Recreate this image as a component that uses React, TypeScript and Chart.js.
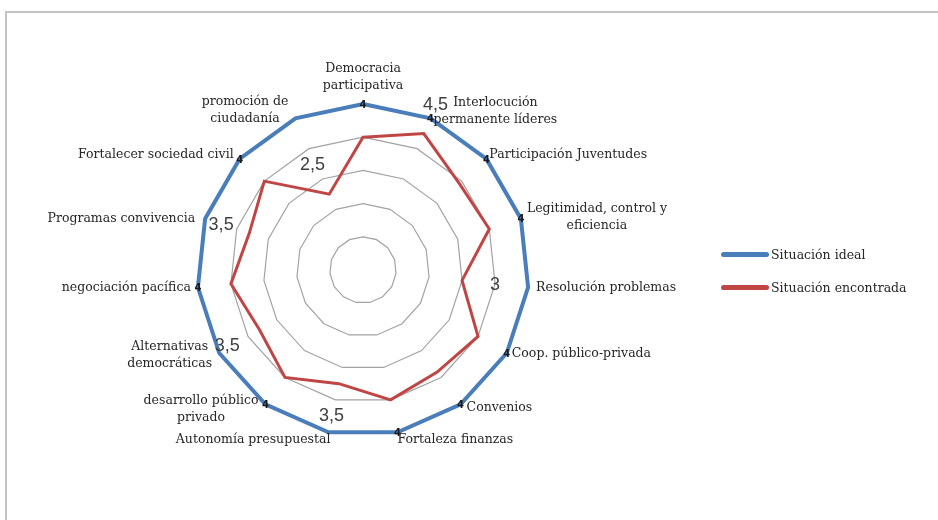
import React, { useEffect, useRef } from "react";
import { Chart, registerables } from "chart.js";

Chart.register(...registerables);

// ---- data ----
const categories: string[][] = [
  ["Democracia", "participativa"],
  ["Interlocución", "permanente líderes"],
  ["Participación Juventudes"],
  ["Legitimidad, control y", "eficiencia"],
  ["Resolución problemas"],
  ["Coop. público-privada"],
  ["Convenios"],
  ["Fortaleza finanzas"],
  ["Autonomía presupuestal"],
  ["desarrollo público", "privado"],
  ["Alternativas", "democráticas"],
  ["negociación pacífica"],
  ["Programas convivencia"],
  ["Fortalecer sociedad civil"],
  ["promoción de", "ciudadanía"],
];

const seriesNames = ["Situación ideal", "Situación encontrada"];

const idealValues = [4, 4, 4, 4, 4, 4, 4, 4, 4, 4, 4, 4, 4, 4, 4];
const foundValues = [3.5, 3.75, 3.45, 3.5, 3.0, 3.5, 3.4, 3.5, 3.25, 3.5, 3.3, 3.5, 3.3, 3.5, 2.75];

// small data labels at the ideal vertices ("" = none)
const idealTags = ["4", "4", "4", "4", "", "4", "4", "4", "", "4", "", "4", "", "4", ""];
// larger value labels shown near some categories ("" = none)
const valueTags = ["", "4,5", "", "", "3", "", "", "", "3,5", "", "3,5", "", "3,5", "", "2,5"];

const scaleMin = 1.5;
const scaleMax = 4;
const scaleStep = 0.5;

// ---- styles / placement ----
const BLUE = "#4a7ebb";
const RED = "#c04545";
const LABEL_FONT = '12.5px "DejaVu Serif"';
const LINE_H = 17;
// [mode, dx, dy] relative to the outer vertex: c=centered, l=block starts right of vertex, r=block ends left of vertex
const labelPlacement: [string, number, number][] = [
  ["c", 0, -27],
  ["l", 3, -7],
  ["l", 3, -4],
  ["l", 6, -1],
  ["l", 8, 0],
  ["l", 5, 1],
  ["l", 6, 3],
  ["l", 0, 7],
  ["r", 2, 7],
  ["r", -7, 5],
  ["r", -7, 2],
  ["r", -7, 0],
  ["r", -10, 0],
  ["r", -6, -4],
  ["r", -7, -8],
];
// offsets (px) of the larger value tags relative to the outer vertex
const valueTagOffset: Record<number, [number, number]> = {
  1: [5, -13],
  4: [-33, -2],
  8: [3, -16],
  10: [8, -7],
  12: [16, 6],
  14: [17, 47],
};

const textPlugin = {
  id: "radarTexts",
  afterDatasetsDraw(chart: any) {
    const scale = chart.scales.r;
    const ctx = chart.ctx as CanvasRenderingContext2D;
    const R = scale.getDistanceFromCenterForValue(scaleMax);
    ctx.save();
    ctx.textBaseline = "middle";
    ctx.textAlign = "center";
    // category labels
    ctx.font = LABEL_FONT;
    ctx.fillStyle = "#262626";
    categories.forEach((lines, i) => {
      const p = scale.getPointPosition(i, R);
      const [mode, dx, dy] = labelPlacement[i];
      const w = Math.max(...lines.map((l) => ctx.measureText(l).width));
      let cx = p.x + dx;
      if (mode === "l") cx = p.x + dx + w / 2;
      if (mode === "r") cx = p.x + dx - w / 2;
      const cy = p.y + dy;
      lines.forEach((l, k) => {
        ctx.fillText(l, cx, cy + (k - (lines.length - 1) / 2) * LINE_H);
      });
    });
    // small tags at ideal vertices
    ctx.font = 'bold 10px "DejaVu Sans"';
    ctx.fillStyle = "#1a1a1a";
    idealTags.forEach((t, i) => {
      if (!t) return;
      const p = scale.getPointPosition(i, scale.getDistanceFromCenterForValue(idealValues[i]));
      ctx.fillText(t, p.x, p.y + 1);
    });
    // larger value tags
    ctx.font = '18px "Liberation Sans"';
    ctx.fillStyle = "#404040";
    valueTags.forEach((t, i) => {
      if (!t) return;
      const p = scale.getPointPosition(i, R);
      const off = valueTagOffset[i] || [0, 0];
      ctx.fillText(t, p.x + off[0], p.y + off[1]);
    });
    ctx.restore();
  },
};

export default function App() {
  const ref = useRef<HTMLCanvasElement | null>(null);

  useEffect(() => {
    if (!ref.current) return;
    const chart = new Chart(ref.current, {
      type: "radar",
      data: {
        labels: categories,
        datasets: [
          {
            label: seriesNames[0],
            data: idealValues,
            borderColor: BLUE,
            backgroundColor: "transparent",
            borderWidth: 4,
            pointRadius: 0,
            fill: false,
          },
          {
            label: seriesNames[1],
            data: foundValues,
            borderColor: RED,
            backgroundColor: "transparent",
            borderWidth: 3,
            pointRadius: 0,
            fill: false,
          },
        ],
      },
      options: {
        responsive: false,
        animation: false,
        layout: { padding: { left: 196.5, right: 408.5, top: 103.5, bottom: 83.5 } },
        plugins: {
          legend: { display: false },
          tooltip: { enabled: false },
        },
        elements: { line: { tension: 0, borderJoinStyle: "miter" } },
        scales: {
          r: {
            min: scaleMin,
            max: scaleMax,
            ticks: { display: false, stepSize: scaleStep },
            grid: { color: "#a3a3a3", lineWidth: 1.2 },
            angleLines: { display: false },
            pointLabels: { display: false },
          },
        },
      },
      plugins: [textPlugin],
    });
    return () => chart.destroy();
  }, []);

  const legendRow = (color: string, text: string, top: number) => (
    <div style={{ position: "absolute", left: 721, top: top - 10, height: 20, display: "flex", alignItems: "center" }}>
      <div style={{ width: 48, height: 5, borderRadius: 3, background: color }} />
      <span style={{ font: LABEL_FONT, color: "#262626", marginLeft: 2, whiteSpace: "nowrap" }}>{text}</span>
    </div>
  );

  return (
    <div style={{ position: "absolute", left: 0, top: 0, width: 938, height: 520, overflow: "hidden", background: "#fff" }}>
      <div
        style={{
          position: "absolute",
          left: 5,
          top: 11,
          width: 940,
          height: 520,
          borderTop: "2px solid #c4c4c4",
          borderLeft: "2px solid #c4c4c4",
        }}
      />
      <canvas ref={ref} width={938} height={520} style={{ position: "absolute", left: 0, top: 0, width: 938, height: 520 }} />
      {legendRow(BLUE, seriesNames[0], 254)}
      {legendRow(RED, seriesNames[1], 287)}
    </div>
  );
}
